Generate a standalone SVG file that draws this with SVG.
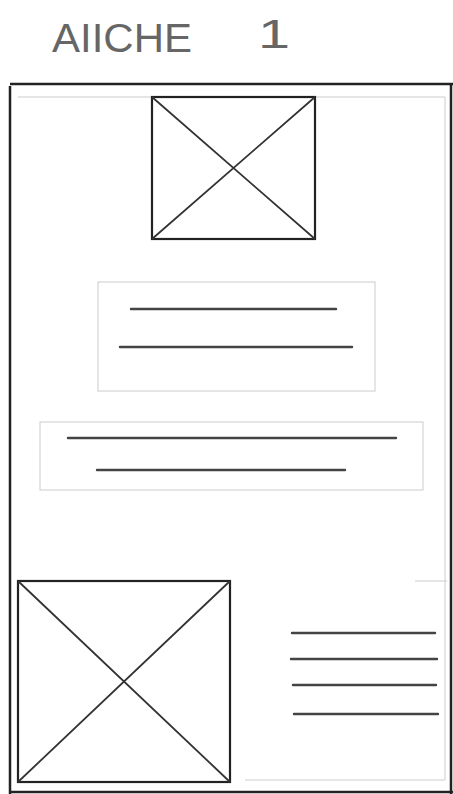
<svg xmlns="http://www.w3.org/2000/svg" width="453" height="794" viewBox="0 0 453 794">
<style>
.title{font-family:"Liberation Sans","DejaVu Sans",sans-serif;font-size:40px;fill:#666;font-weight:normal}
.frame{fill:none;stroke:#222;stroke-width:2.5}
.faint{fill:none;stroke:#ccc;stroke-width:1}
.img{fill:none;stroke:#222;stroke-width:2.2}
.cross{stroke:#333;stroke-width:1.8}
.txt{stroke:#444;stroke-width:2.4;stroke-linecap:round}
</style>
<rect width="453" height="794" fill="#fff"/>
<g id="title">
<text class="title" x="52" y="52" textLength="140" lengthAdjust="spacingAndGlyphs">AIICHE</text>
<text class="title" x="258" y="48" textLength="32" lengthAdjust="spacingAndGlyphs">1</text>
</g>
<g id="poster-frame">
<path class="frame" d="M10 794 V86 M10 84 H453 M451 84 V794 M10 792 H453"/>
<path class="faint" d="M18 97 H445 V780 M245 780 H445 M415 581 H447"/>
</g>
<g id="image-top">
<rect class="img" x="152" y="97" width="163" height="142"/>
<path class="cross" d="M152 97 L315 239 M315 97 L152 239"/>
</g>
<g id="text-block-1">
<rect class="faint" x="98" y="282" width="277" height="109"/>
<path class="txt" d="M131 309 H336 M120 347 H352"/>
</g>
<g id="text-block-2">
<rect class="faint" x="40" y="422" width="383" height="68"/>
<path class="txt" d="M68 438 H396 M97 470 H345"/>
</g>
<g id="image-bottom">
<rect class="img" x="18" y="581" width="212" height="201"/>
<path class="cross" d="M18 581 L230 782 M230 581 L18 782"/>
</g>
<g id="text-block-3">
<path class="txt" d="M292 633 H435 M291 659 H437 M293 685 H436 M294 714 H438"/>
</g>
<g id="connectors"></g>
</svg>
